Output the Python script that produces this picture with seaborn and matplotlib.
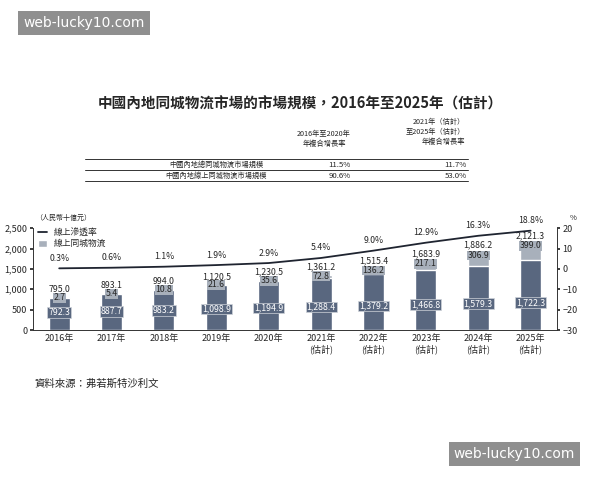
import numpy as np
import pandas as pd
import matplotlib
matplotlib.use('Agg')
import matplotlib.pyplot as plt
import seaborn as sns

sns.set_theme(style='white')
plt.rcParams['font.family'] = ['Noto Sans CJK TC', 'DejaVu Sans']

years = ['2016年', '2017年', '2018年', '2019年', '2020年',
         '2021年\n(估計)', '2022年\n(估計)', '2023年\n(估計)', '2024年\n(估計)', '2025年\n(估計)']
total = [795.0, 893.1, 994.0, 1120.5, 1230.5, 1361.2, 1515.4, 1683.9, 1886.2, 2121.3]
online = [2.7, 5.4, 10.8, 21.6, 35.6, 72.8, 136.2, 217.1, 306.9, 399.0]
offline = [792.3, 887.7, 983.2, 1098.9, 1194.9, 1288.4, 1379.2, 1466.8, 1579.3, 1722.3]
rate = [0.3, 0.6, 1.1, 1.9, 2.9, 5.4, 9.0, 12.9, 16.3, 18.8]

table_rows = ['中國內地總同城物流市場規模', '中國內地線上同城物流市場規模']
cagr_1 = ['11.5%', '90.6%']
cagr_2 = ['11.7%', '53.0%']

dark = '#59677f'
light = '#a8b0bb'

fig = plt.figure(figsize=(6, 4.8), dpi=100)
fig.patch.set_facecolor('white')

# title
fig.text(0.5, 0.785, '中國內地同城物流市場的市場規模，2016年至2025年（估計）',
         ha='center', va='center', fontsize=10.5, fontweight='bold')

# table
fs = 5.2
fig.text(0.54, 0.71, '2016年至2020年\n年複合增長率', ha='center', va='center', fontsize=fs, linespacing=1.3)
fig.text(0.775, 0.725, '2021年（估計）\n至2025年（估計）\n年複合增長率', ha='right', va='center', fontsize=fs, linespacing=1.3)
for yy in [0.669, 0.645, 0.622]:
    fig.add_artist(plt.Line2D([0.142, 0.78], [yy, yy], color='#333333', lw=0.7))
for i, (name, a, b) in enumerate(zip(table_rows, cagr_1, cagr_2)):
    yy = 0.657 - i * 0.0235
    fig.text(0.36, yy, name, ha='center', va='center', fontsize=fs)
    fig.text(0.585, yy, a, ha='right', va='center', fontsize=fs + 0.4)
    fig.text(0.778, yy, b, ha='right', va='center', fontsize=fs + 0.4)

ax = fig.add_axes([0.055, 0.3125, 0.873, 0.212])
df = pd.DataFrame({'year': years, 'total': total, 'offline': offline})
sns.barplot(data=df, x='year', y='total', color=light, width=0.4, saturation=1, ax=ax,
            label='線上同城物流')
sns.barplot(data=df, x='year', y='offline', color=dark, width=0.4, saturation=1, ax=ax)
ax.set_ylim(0, 2500)
ax.set_yticks(range(0, 2501, 500))
ax.set_yticklabels([f'{v:,}' for v in range(0, 2501, 500)], fontsize=6.5)
ax.set_xlabel('')
ax.set_ylabel('')
ax.tick_params(axis='x', labelsize=6.5, length=0, pad=3)
ax.tick_params(axis='y', length=2, pad=2)
for s in ['top', 'right']:
    ax.spines[s].set_visible(False)
for s in ['left', 'bottom']:
    ax.spines[s].set_color('#333333')
    ax.spines[s].set_linewidth(0.7)

n = len(years)
for i in range(n):
    ax.text(i, total[i] + 85, f'{total[i]:,.1f}', ha='center', va='bottom', fontsize=6.3)
    oy = max(offline[i] + online[i] / 2, total[i] - 55)
    ax.text(i, oy, f'{online[i]:,.1f}', ha='center', va='center', fontsize=6.3,
            bbox=dict(boxstyle='square,pad=0.05', fc=light, ec='none'))
    ax.text(i, 435 + 235 * i / (n - 1), f'{offline[i]:,.1f}',
            ha='center', va='center', fontsize=6.3, color='white',
            bbox=dict(boxstyle='square,pad=0.1', fc=dark, ec='#d0d4da', lw=0.5))

ax2 = ax.twinx()
sns.lineplot(x=np.arange(n), y=rate, color='#1f2430', lw=1.3, ax=ax2, label='線上滲透率')
ax2.set_ylim(-30, 20)
ax2.set_xlim(-0.5, n - 0.5)
ax2.set_yticks(range(-30, 21, 10))
ax2.tick_params(axis='y', labelsize=6.5, length=2, pad=2)
for s in ['top', 'left', 'bottom']:
    ax2.spines[s].set_visible(False)
ax2.spines['right'].set_color('#333333')
ax2.spines['right'].set_linewidth(0.7)
for i, r in enumerate(rate):
    ax2.text(i, r + 2.7, f'{r}%', ha='center', va='bottom', fontsize=6.3)

h1, l1 = ax.get_legend_handles_labels()
h2, l2 = ax2.get_legend_handles_labels()
if ax.get_legend():
    ax.get_legend().remove()
ax2.get_legend().remove()
ax.legend(h2 + h1[:1], l2 + l1[:1], loc='upper left', bbox_to_anchor=(0.0, 1.05), frameon=False,
          fontsize=6.3, handlelength=1.0, handleheight=0.8, labelspacing=0.2, borderpad=0.1)

fig.text(0.058, 0.545, '（人民幣十億元）', fontsize=5, ha='left', va='center')
fig.text(0.955, 0.545, '%', fontsize=5.5, ha='center', va='center')

fig.text(0.058, 0.2, '資料來源：弗若斯特沙利文', fontsize=7.5, ha='left', va='center', style='italic')

# watermarks
fig.text(0.14, 0.952, 'web-lucky10.com', fontsize=10, color='white', ha='center', va='center',
         family=['DejaVu Sans'], bbox=dict(boxstyle='square,pad=0.35', fc='#8f8f8f', ec='none'))
fig.text(0.857, 0.054, 'web-lucky10.com', fontsize=10, color='white', ha='center', va='center',
         family=['DejaVu Sans'], bbox=dict(boxstyle='square,pad=0.35', fc='#8f8f8f', ec='none'))

fig.savefig('out.png', dpi=100, facecolor='white')
